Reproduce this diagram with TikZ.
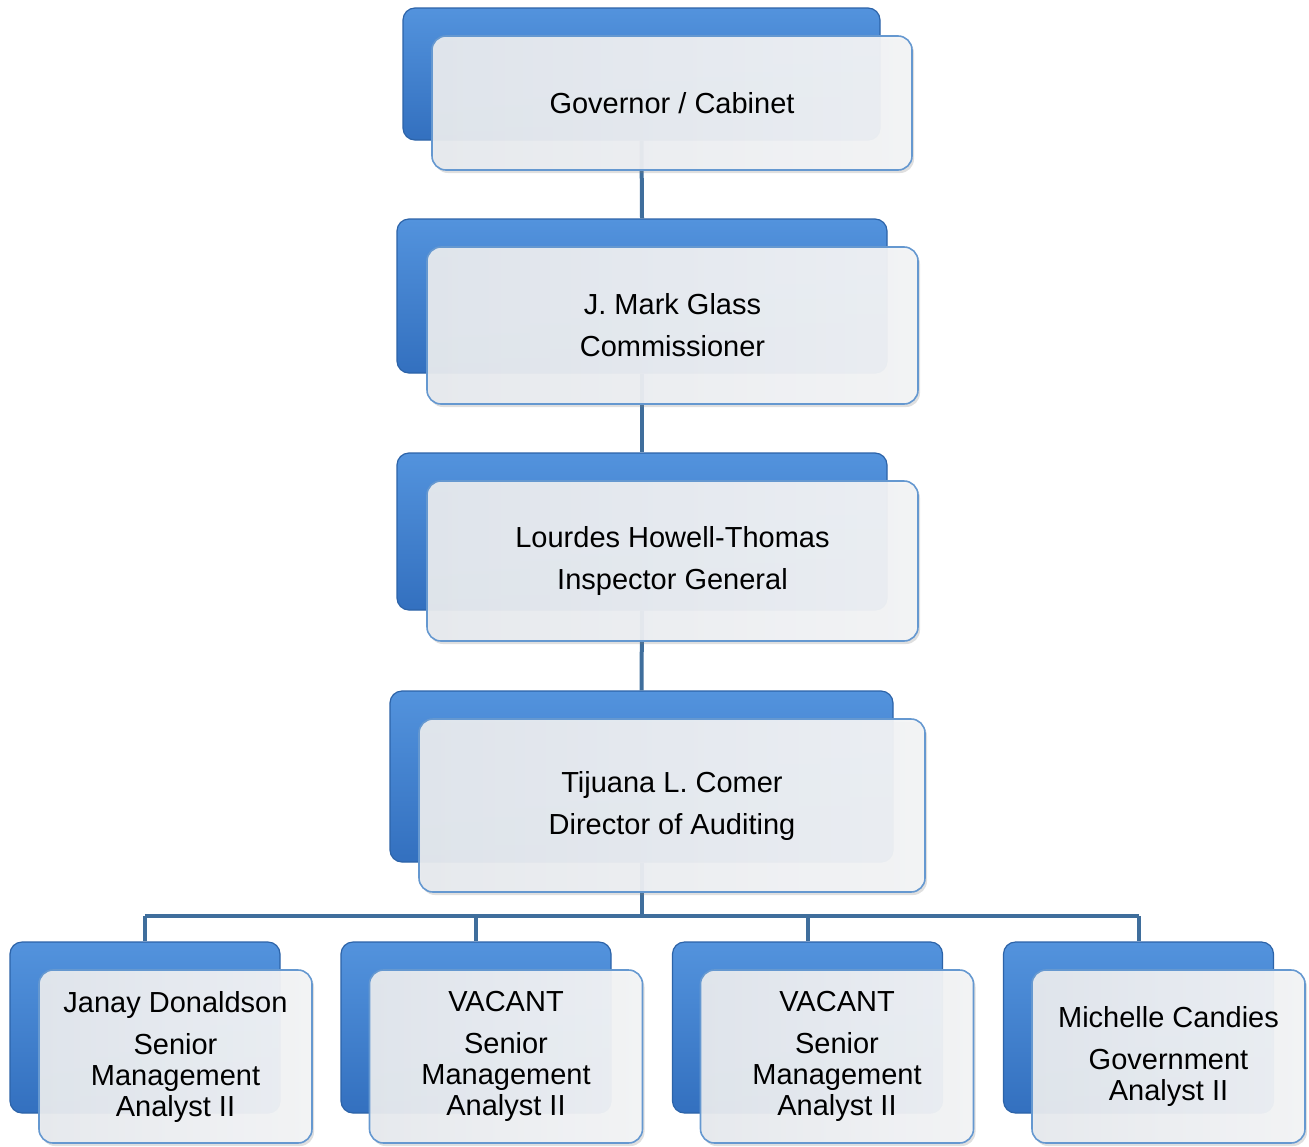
\documentclass[tikz,border=0pt]{standalone}
\usepackage{fontspec}
\setmainfont{Liberation Sans}
\usetikzlibrary{shadows}

\definecolor{backtop}{HTML}{5393DD}
\definecolor{backmid}{HTML}{3B7BCC}
\definecolor{backbot}{HTML}{3370BF}
\definecolor{backedge}{HTML}{2C63A8}
\definecolor{frontleft}{HTML}{E7EAEE}
\definecolor{frontright}{HTML}{F3F4F6}
\definecolor{frontedge}{HTML}{6598D0}
\definecolor{linkblue}{HTML}{3F6E9C}

\tikzset{
  backbox/.style={rounded corners=12pt, draw=backedge, line width=1.2pt,
    top color=backtop, middle color=backmid, bottom color=backbot, inner sep=0pt},
  frontbox/.style={rounded corners=14pt, draw=frontedge, line width=1.6pt,
    left color=frontleft, right color=frontright, fill opacity=.95, text opacity=1,
    drop shadow={opacity=.25, shadow xshift=2pt, shadow yshift=-3pt},
    align=center, inner sep=0pt, font=\fontsize{29}{31}\selectfont},
  link/.style={draw=linkblue, line width=4pt},
}

\begin{document}
\begin{tikzpicture}[x=1pt, y=-1pt]
  \useasboundingbox (0,0) rectangle (1309,1146);

  % back boxes
  \node (govback)[backbox, minimum width=477, minimum height=132] at (641.5, 74) {};
  \node (commback)[backbox, minimum width=490, minimum height=154] at (642, 296) {};
  \node (igback)[backbox, minimum width=490, minimum height=157] at (642, 531.5) {};
  \node (dirback)[backbox, minimum width=503, minimum height=171] at (641.5, 776.5) {};
  \node (sa1back)[backbox, minimum width=270, minimum height=171] at (145, 1027.5) {};
  \node (sa2back)[backbox, minimum width=270, minimum height=171] at (476, 1027.5) {};
  \node (sa3back)[backbox, minimum width=270, minimum height=171] at (807.5, 1027.5) {};
  \node (gaback)[backbox, minimum width=270, minimum height=171] at (1138.5, 1027.5) {};

  % connectors
  \coordinate (bus) at (641.5, 916);
  \draw[link] (govback.south) -- (commback.north);
  \draw[link] (commback.south) -- (igback.north);
  \draw[link] (igback.south) -- (dirback.north);
  \draw[link] (dirback.south) -- (bus);
  \draw[link] (bus -| sa1back.north) -- (bus -| gaback.north);
  \foreach \n in {sa1back, sa2back, sa3back, gaback}
    \draw[link] (bus -| \n.north) -- (\n.north);

  % front boxes
  \node (gov)[frontbox, minimum width=480, minimum height=134] at (672, 103) {Governor / Cabinet};
  \node (comm)[frontbox, minimum width=491, minimum height=157] at (672.5, 325.5) {J. Mark Glass\\[11pt]Commissioner};
  \node (ig)[frontbox, minimum width=491, minimum height=160] at (672.5, 561) {Lourdes Howell-Thomas\\[11pt]Inspector General};
  \node (dir)[frontbox, minimum width=506, minimum height=173] at (672, 805.5) {Tijuana L. Comer\\[11pt]Director of Auditing};
  \node (sa1)[frontbox, minimum width=273, minimum height=173] at (175.5, 1056.5) {Janay Donaldson\\[11pt]Senior\\Management\\Analyst II};
  \node (sa2)[frontbox, minimum width=273, minimum height=173] at (506, 1056.5) {VACANT\\[11pt]Senior\\Management\\Analyst II};
  \node (sa3)[frontbox, minimum width=273, minimum height=173] at (837, 1056.5) {VACANT\\[11pt]Senior\\Management\\Analyst II};
  \node (ga)[frontbox, minimum width=273, minimum height=173] at (1168.5, 1056.5) {Michelle Candies\\[11pt]Government\\Analyst II};
\end{tikzpicture}
\end{document}
